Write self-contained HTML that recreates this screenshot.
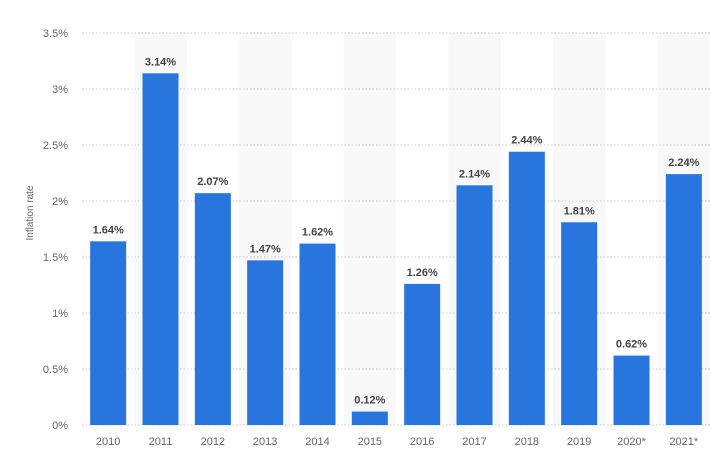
<!DOCTYPE html>
<html><head><meta charset="utf-8"><style>
body{margin:0;background:#fff;}
svg{display:block;font-family:"Liberation Sans",sans-serif;}
</style></head><body>
<svg id="chart" width="718" height="466"></svg>
<script>
const categories=["2010","2011","2012","2013","2014","2015","2016","2017","2018","2019","2020*","2021*"];
const values=[1.64,3.14,2.07,1.47,1.62,0.12,1.26,2.14,2.44,1.81,0.62,2.24];
const valueLabels=["1.64%","3.14%","2.07%","1.47%","1.62%","0.12%","1.26%","2.14%","2.44%","1.81%","0.62%","2.24%"];
const ticks=[0,0.5,1,1.5,2,2.5,3,3.5];
const tickLabels=["0%","0.5%","1%","1.5%","2%","2.5%","3%","3.5%"];
const NS="http://www.w3.org/2000/svg";
const svg=document.getElementById('chart');
const L=82,R=710,T=33,B=425,maxV=3.5;
const bw=(R-L)/categories.length;
const y=v=>B-(v/maxV)*(B-T);
const xc=i=>L+bw*i+bw/2;
function mk(tag,attrs,text){const e=document.createElementNS(NS,tag);for(const k in attrs)e.setAttribute(k,attrs[k]);if(text!==undefined)e.textContent=text;svg.appendChild(e);return e;}
categories.forEach((c,i)=>{if(i%2===1){const r=mk('rect',{x:L+bw*i,y:T,width:bw,height:B-T,fill:'#f8f8f8'});

}});
ticks.forEach((t,i)=>{
const g=mk('line',{x1:L,x2:R,y1:y(t),y2:y(t),stroke:'#c8c8c8','stroke-dasharray':'1.5,2','stroke-width':1});


const tl=mk('text',{x:68,y:y(t)+4,'text-anchor':'end','font-size':11,fill:'#666'},tickLabels[i]);

});
categories.forEach((c,i)=>{
const b=mk('rect',{x:xc(i)-18,y:y(values[i]),width:36,height:B-y(values[i]),fill:'#2876dd'});


const vl=mk('text',{x:xc(i),y:y(values[i])-8,'text-anchor':'middle','font-size':11,'font-weight':'bold',fill:'#444'},valueLabels[i]);


const xl=mk('text',{x:xc(i),y:445,'text-anchor':'middle','font-size':11,fill:'#666'},c);

});
const yt=mk('text',{x:0,y:0,transform:'translate(33,213) rotate(-90)','text-anchor':'middle','font-size':10,fill:'#666'},'Inflation rate');


</script>
</body></html>
